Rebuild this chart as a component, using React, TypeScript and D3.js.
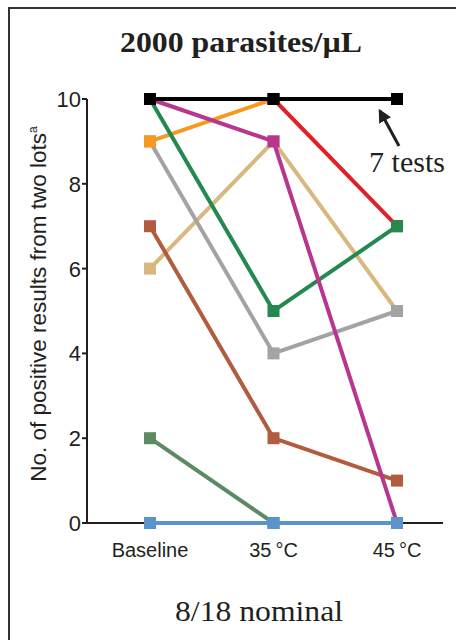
import React from "react";
import * as d3 from "d3";

const categories = ["Baseline", "35\u2009°C", "45\u2009°C"];
const yTicks = [0, 2, 4, 6, 8, 10];

const seriesNames = ["tan", "gray", "brown", "graygreen", "orange", "red", "green", "magenta", "black", "blue"];
const seriesColors = ["#d8b87f", "#a3a3a3", "#b25c3f", "#5b8a63", "#f7981f", "#e41f26", "#23894f", "#b8368e", "#000000", "#5b93cb"];
const tan = [6, 9, 5];
const gray = [9, 4, 5];
const brown = [7, 2, 1];
const graygreen = [2, 0, 0];
const orange = [9, 10, 10];
const red = [10, 10, 7];
const green = [10, 5, 7];
const magenta = [10, 9, 0];
const black = [10, 10, 10];
const blue = [0, 0, 0];
const seriesValues = [tan, gray, brown, graygreen, orange, red, green, magenta, black, blue];

const title = "2000 parasites/\u00b5L";
const annotation = "7 tests";
const footer = "8/18 nominal";
const yLabel = "No. of positive results from two lots";

export default function App() {
  const W = 456, H = 640;
  const x = d3.scalePoint<string>().domain(categories).range([150, 397]);
  const y = d3.scaleLinear().domain([0, 10]).range([523, 99]);
  const line = d3.line<number>().x((_, i) => x(categories[i])!).y((v) => y(v));
  const ms = 12;
  const serif = "'Liberation Serif', 'Times New Roman', serif";
  const sans = "'Liberation Sans', Arial, sans-serif";

  return (
    <svg width={W} height={H} style={{ position: "absolute", left: 0, top: 0 }}>
      <rect x={0} y={0} width={W} height={H} fill="#fff" />
      <path d={`M9,${H} V8 H${W}`} fill="none" stroke="#333" strokeWidth={2} />
      <text x={241} y={52} textAnchor="middle" fontFamily={serif} fontWeight="bold" fontSize={30} fill="#231f20" textLength={242} lengthAdjust="spacingAndGlyphs">
        {title}
      </text>
      {/* axes */}
      <g stroke="#231f20" strokeWidth={2} fill="none">
        <line x1={87} x2={87} y1={y(10)} y2={y(0)} />
        <line x1={87} x2={443} y1={y(0)} y2={y(0)} />
        {yTicks.map((t) => (
          <line key={t} x1={82} x2={87} y1={y(t)} y2={y(t)} />
        ))}
        {categories.map((c) => (
          <line key={c} x1={x(c)!} x2={x(c)!} y1={y(0)} y2={y(0) + 6} />
        ))}
      </g>
      {yTicks.map((t) => (
        <text key={t} x={81} y={y(t) + 8} textAnchor="end" fontFamily={sans} fontSize={22} fill="#231f20">
          {t}
        </text>
      ))}
      {categories.map((c) => (
        <text key={c} x={x(c)!} y={557} textAnchor="middle" fontFamily={sans} fontSize={20} fill="#231f20">
          {c}
        </text>
      ))}
      <text transform={`translate(46,304) rotate(-90)`} textAnchor="middle" fontFamily={sans} fontSize={22.5} fill="#231f20">
        {yLabel}
        <tspan fontSize={12} dy={-9}>a</tspan>
      </text>
      {/* series */}
      {seriesValues.map((vals, si) => (
        <g key={seriesNames[si]}>
          <path d={line(vals)!} fill="none" stroke={seriesColors[si]} strokeWidth={4} />
          {vals.map((v, i) => (
            <rect key={i} x={x(categories[i])! - ms / 2} y={y(v) - ms / 2} width={ms} height={ms} fill={seriesColors[si]} />
          ))}
        </g>
      ))}
      {/* annotation */}
      <defs>
        <marker id="ah" viewBox="0 0 10 10" refX={8} refY={5} markerWidth={4.5} markerHeight={4.5} orient="auto">
          <path d="M0,0 L10,5 L0,10 z" fill="#231f20" />
        </marker>
      </defs>
      <line x1={399} y1={146} x2={380} y2={111} stroke="#231f20" strokeWidth={3} markerEnd="url(#ah)" />
      <text x={407} y={172} textAnchor="middle" fontFamily={serif} fontSize={30} fill="#231f20">
        {annotation}
      </text>
      <text x={259} y={621} textAnchor="middle" fontFamily={serif} fontSize={29} fill="#231f20" textLength={168} lengthAdjust="spacingAndGlyphs">
        {footer}
      </text>
    </svg>
  );
}
